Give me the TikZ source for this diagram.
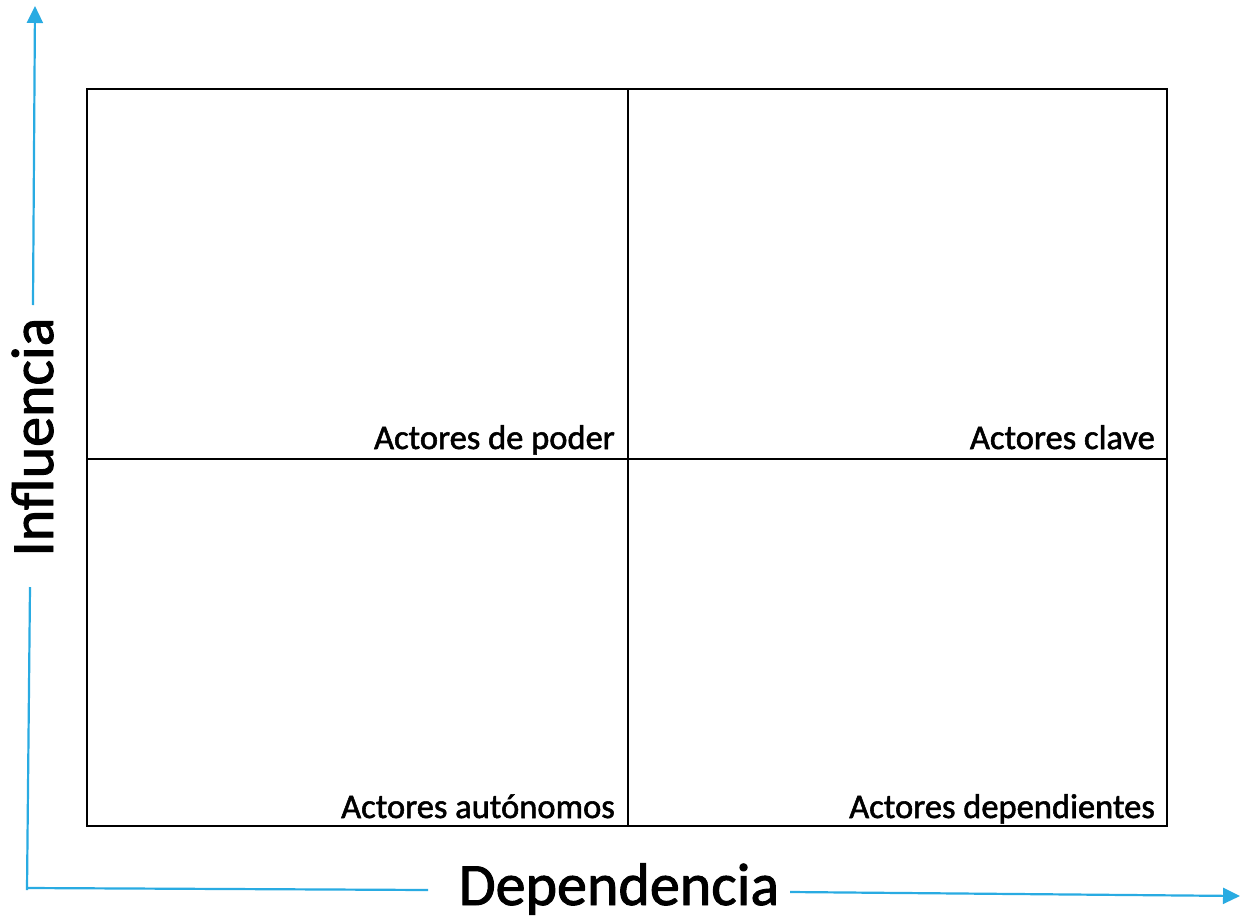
\documentclass[tikz,border=0pt]{standalone}
\usepackage{fontspec}
\setmainfont{Carlito}
\newfontfamily\labelfont[FakeBold=1.6]{Carlito}
\usetikzlibrary{arrows.meta}
\definecolor{axisblue}{RGB}{41,171,226}
\begin{document}
\begin{tikzpicture}[x=1pt,y=-1pt,
  grid/.style={draw=black,line width=1.6pt},
  axisline/.style={draw=axisblue,line width=2.2pt},
  axisarrow/.style={axisline,-{Triangle[length=17pt,width=16pt]}},
  quad/.style={anchor=base east,inner sep=0pt,font=\labelfont\fontsize{34.5}{38}\selectfont},
  axislabel/.style={inner sep=0pt,font=\labelfont\fontsize{60}{66}\selectfont}]
\useasboundingbox (0,0) rectangle (1242,921);
\fill[white] (0,0) rectangle (1242,921);
% quadrant box
\coordinate (tl) at (87,89);
\coordinate (br) at (1167,826);
\draw[grid] (tl) rectangle (br);
\coordinate (mt) at (628,89);
\coordinate (mb) at (628,826);
\coordinate (ml) at (87,459);
\coordinate (mr) at (1167,459);
\draw[grid] (mt) -- (mb);
\draw[grid] (ml) -- (mr);
% quadrant labels
\node[quad] (poder) at (615,449) {Actores de poder};
\node[quad] (clave) at (1155,449) {Actores clave};
\node[quad] (auto) at (615,818) {Actores autónomos};
\node[quad] (dep) at (1155,818) {Actores dependientes};
% axis labels
\node[axislabel,anchor=base] (xl) at (619,905) {Dependencia};
\node[axislabel,anchor=base,rotate=90] (yl) at (53,437) {Influencia};
% axes
\coordinate (o) at (27,890);
\coordinate (ytop) at (35,6);
\coordinate (ya) at (33,305);
\coordinate (yb) at (30,587);
\coordinate (xa) at (428,890);
\coordinate (xb) at (790,892);
\coordinate (xend) at (1240,896);
\draw[axisarrow] (ya) -- (ytop);
\draw[axisline] (yb) -- (o);
\draw[axisline] (27,888) -- (xa);
\draw[axisarrow] (xb) -- (xend);
\end{tikzpicture}
\end{document}
